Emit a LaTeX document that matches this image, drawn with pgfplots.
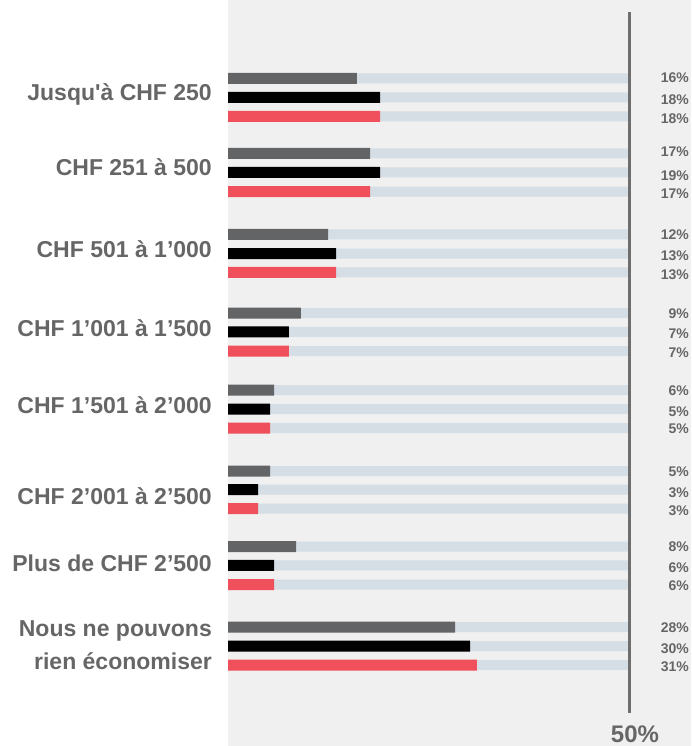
\documentclass[border=0pt]{standalone}
\usepackage{pgfplots}
\usepackage{pgfplotstable}
\pgfplotsset{compat=1.18}
\usepackage{fontspec}
\newfontfamily\lab{Liberation Sans}
\definecolor{panel}{HTML}{F0F0F0}
\definecolor{track}{HTML}{D5DDE5}
\definecolor{greybar}{HTML}{636466}
\definecolor{redbar}{HTML}{F04F5C}
\definecolor{vline}{HTML}{6E6E6E}
\definecolor{txt}{HTML}{666666}

% value (percent), bar centre (px from top), label text, label baseline
\pgfplotstableread{
v      y      lab   ly
16.1   78.3   16\%  83
17.75  153.5  17\%  157
12.5   234.3  12\%  239.5
9.1    313    9\%   318
5.75   390    6\%   395.5
5.25   471    5\%   476.5
8.5    546.5  8\%   551.5
28.4   627    28\%  632.5
}\greyT
\pgfplotstableread{
v      y      lab   ly
19     97.5   18\%  105
19     172.5  19\%  180
13.5   253.5  13\%  260.5
7.6    331.8  7\%   338
5.25   409    5\%   416
3.75   489.5  3\%   497
5.75   565.3  6\%   572
30.25  646    30\%  653
}\blackT
\pgfplotstableread{
v      y      lab   ly
19     116.5  18\%  124
17.75  191.5  17\%  198
13.5   272.3  13\%  279
7.6    351    7\%   357
5.25   428    5\%   433.5
3.75   508.5  3\%   515.5
5.75   584.5  6\%   590.5
31.1   665    31\%  671.5
}\redT

\pgfplotsset{
  track/.style={xbar, bar width=10pt, bar shift=0pt, fill=track, draw=none},
  vbar/.style={xbar, bar width=11pt, bar shift=0pt, fill=#1, draw=none},
  vlab/.style={draw=none, mark=none, nodes near coords, point meta=explicit symbolic,
    nodes near coords style={anchor=base east, inner sep=0pt, text=txt,
      font=\lab\bfseries\fontsize{14}{14}\selectfont}},
}

\begin{document}
\begin{tikzpicture}
\begin{axis}[name=ax, scale only axis, width=691pt, height=746pt,
  xmin=-28.5, xmax=57.875, ymin=0, ymax=746, y dir=reverse,
  hide axis, clip=false]
\fill[panel] (axis cs:0,0) rectangle (axis cs:57.875,746);
% tracks
\addplot[track] table[x expr=50, y=y] {\greyT};
\addplot[track] table[x expr=50, y=y] {\blackT};
\addplot[track] table[x expr=50, y=y] {\redT};
% value bars
\addplot[vbar=greybar] table[x=v, y=y] {\greyT};
\addplot[vbar=black] table[x=v, y=y] {\blackT};
\addplot[vbar=redbar] table[x=v, y=y] {\redT};
% vertical 50% line
\addplot[vline, line width=2.5pt, mark=none] coordinates {(50.19,12) (50.19,713)};
% value labels
\addplot[vlab] table[x expr=57.625, y=ly, meta=lab] {\greyT};
\addplot[vlab] table[x expr=57.625, y=ly, meta=lab] {\blackT};
\addplot[vlab] table[x expr=57.625, y=ly, meta=lab] {\redT};
% category labels
\begin{scope}[every node/.style={anchor=base east, inner sep=0pt, text=txt,
   font=\lab\bfseries\fontsize{23}{23}\selectfont}]
\node at (axis cs:-2,100.7) {Jusqu'à CHF 250};
\node at (axis cs:-2,175.7) {CHF 251 à 500};
\node at (axis cs:-2,257.3) {CHF 501 à 1’000};
\node at (axis cs:-2,336) {CHF 1’001 à 1’500};
\node at (axis cs:-2,413) {CHF 1’501 à 2’000};
\node at (axis cs:-2,504) {CHF 2’001 à 2’500};
\node at (axis cs:-2,571) {Plus de CHF 2’500};
\node at (axis cs:-2,636) {Nous ne pouvons};
\node at (axis cs:-2,669) {rien économiser};
\end{scope}
\node[anchor=base, inner sep=0pt, text=txt, font=\lab\bfseries\fontsize{24}{24}\selectfont]
  at (axis cs:50.875,742.5) {50\%};
\end{axis}
\pgfresetboundingbox
\useasboundingbox (ax.south west) rectangle (ax.north east);
\end{tikzpicture}
\end{document}
